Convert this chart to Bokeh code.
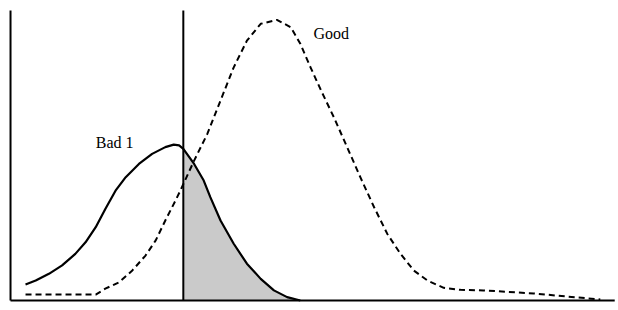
from bokeh.plotting import figure
from bokeh.models import Range1d
from bokeh.embed import file_html
from bokeh.resources import INLINE
from bokeh.core.properties import value
import numpy as np

# Score axis (arbitrary units) and relative frequency
bad_x = [2.5, 4.2, 6.4, 8.6, 10.8, 12.5, 14.2, 15.8, 17.5, 19.2, 21.4, 23.6, 25.8,
         27.2, 28.1, 28.8, 30.6, 32.2, 33.3, 35.0, 37.2, 39.4, 41.7, 43.9, 46.1, 48.3]
bad_y = [5.7, 7.1, 9.5, 12.5, 16.6, 20.7, 26.1, 32.6, 39.1, 43.9, 48.6, 52.2, 54.6,
         55.5, 55.2, 54.0, 48.6, 42.7, 36.8, 28.5, 20.2, 13.1, 7.7, 3.6, 1.2, 0.0]

good_x = [2.5, 8.3, 14.2, 15.8, 18.1, 20.3, 22.5, 24.2, 25.8, 27.5, 28.3, 30.6, 32.8,
          35.0, 37.2, 39.4, 41.7, 44.4, 46.7, 48.3, 50.0, 51.9, 53.9, 56.1, 58.3,
          60.6, 62.8, 65.0, 67.2, 69.5, 72.2, 75.0, 78.8, 87.2, 92.8, 98.3]
good_y = [2.1, 2.1, 2.1, 4.2, 6.5, 10.7, 16.0, 21.4, 28.5, 35.6, 39.1, 49.8, 59.3,
          71.2, 83.0, 92.5, 98.5, 99.9, 97.3, 91.4, 83.0, 74.1, 65.2, 54.6, 43.9,
          33.2, 23.7, 16.6, 10.7, 7.1, 4.5, 3.8, 3.6, 2.5, 1.4, 0.4]

cutoff = 28.8
axis_top = 103.2
axis_right = 100.7

labels = ["Bad 1", "Good"]
label_x = [14.2, 50.5]
label_y = [56.2, 95.0]

p = figure(width=618, height=310, output_backend="svg", toolbar_location=None,
           x_range=Range1d(-1.67, 101.33), y_range=Range1d(-3.56, 106.8),
           min_border=0, min_border_left=0, min_border_right=0,
           min_border_top=0, min_border_bottom=0)
p.axis.visible = False
p.grid.visible = False
p.outline_line_color = None
p.background_fill_color = "white"

bx = np.array(bad_x)
by = np.array(bad_y)
mask = bx >= cutoff
p.varea(x=bx[mask], y1=np.zeros(mask.sum()), y2=by[mask], fill_color="#cacaca")

p.line(good_x, good_y, line_color="black", line_width=2, line_dash="6 4",
       line_join="round")
p.line(bad_x, bad_y, line_color="black", line_width=2.2, line_join="round")

# axes and cutoff
p.segment(x0=[0, 0, cutoff], y0=[0, 0, 0], x1=[0, axis_right, cutoff], y1=[axis_top, 0, axis_top],
          line_color="black", line_width=2)

p.text(x=label_x, y=label_y, text=labels, text_font=value("Liberation Serif"),
       text_font_size="16px", text_baseline="middle", text_align="left", text_color="black")

open("out.html", "w").write(file_html(p, INLINE))
